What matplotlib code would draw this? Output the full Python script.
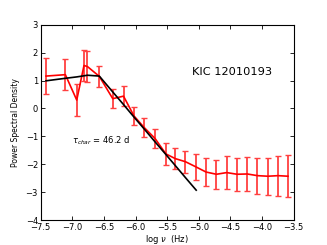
import matplotlib
matplotlib.use("Agg")
import matplotlib.pyplot as plt
import numpy as np

log_nu = [-7.416, -7.11, -6.93, -6.815, -6.76, -6.573, -6.36, -6.19, -6.024, -5.865,
          -5.69, -5.52, -5.37, -5.21, -5.04, -4.884, -4.72, -4.557, -4.394, -4.231,
          -4.07, -3.907, -3.745, -3.587]
psd = [1.16, 1.21, 0.30, 1.54, 1.50, 1.15, 0.35, 0.44, -0.27, -0.68,
       -1.08, -1.63, -1.80, -1.91, -2.10, -2.28, -2.36, -2.30, -2.36, -2.35,
       -2.41, -2.43, -2.41, -2.43]
psd_err = [0.65, 0.55, 0.57, 0.57, 0.57, 0.38, 0.35, 0.37, 0.33, 0.35,
           0.35, 0.39, 0.37, 0.40, 0.46, 0.51, 0.52, 0.59, 0.59, 0.61,
           0.64, 0.66, 0.72, 0.76]

fit_nu = [-7.416, -7.11, -6.93, -6.815, -6.76, -6.573, -6.36, -6.19, -6.024, -5.865,
          -5.69, -5.52, -5.37, -5.21, -5.04]
fit_psd = [0.99, 1.08, 1.13, 1.17, 1.19, 1.16, 0.59, 0.14, -0.31, -0.73,
           -1.20, -1.65, -2.05, -2.48, -2.93]

plt.rcParams['font.family'] = ['DejaVu Sans']
plt.rcParams['xtick.direction'] = 'in'
plt.rcParams['ytick.direction'] = 'in'

fig = plt.figure(figsize=(3.27, 2.45), dpi=100)
ax = fig.add_axes([0.1245, 0.102, 0.7731, 0.797])

ax.errorbar(log_nu, psd, yerr=psd_err, color='red', lw=1.2, elinewidth=1.3,
            ecolor=(1.0, 0.25, 0.25), capsize=2.5, capthick=1.0, zorder=2)
ax.plot(fit_nu, fit_psd, color='black', lw=1.2, zorder=3)

ax.set_xlim(-7.5, -3.5)
ax.set_ylim(-4, 3)
ax.set_xticks(np.arange(-7.5, -3.49, 0.5))
ax.set_yticks(np.arange(-4, 3.1, 1))
ax.tick_params(axis='both', which='both', labelsize=6, top=True, right=True,
               length=3, width=0.6, pad=2)
for s in ax.spines.values():
    s.set_linewidth(0.8)

ax.set_xlabel(r'log $\nu$  (Hz)', fontsize=6, labelpad=1)
ax.set_ylabel('Power Spectral Density', fontsize=5.5, labelpad=4)

ax.text(0.60, 0.76, 'KIC 12010193', transform=ax.transAxes, fontsize=8.2,
        ha='left', va='center')
ax.text(0.125, 0.405, r'$\tau_{char}$ = 46.2 d', transform=ax.transAxes, fontsize=6,
        ha='left', va='center')

fig.savefig('out.png', dpi=100)
